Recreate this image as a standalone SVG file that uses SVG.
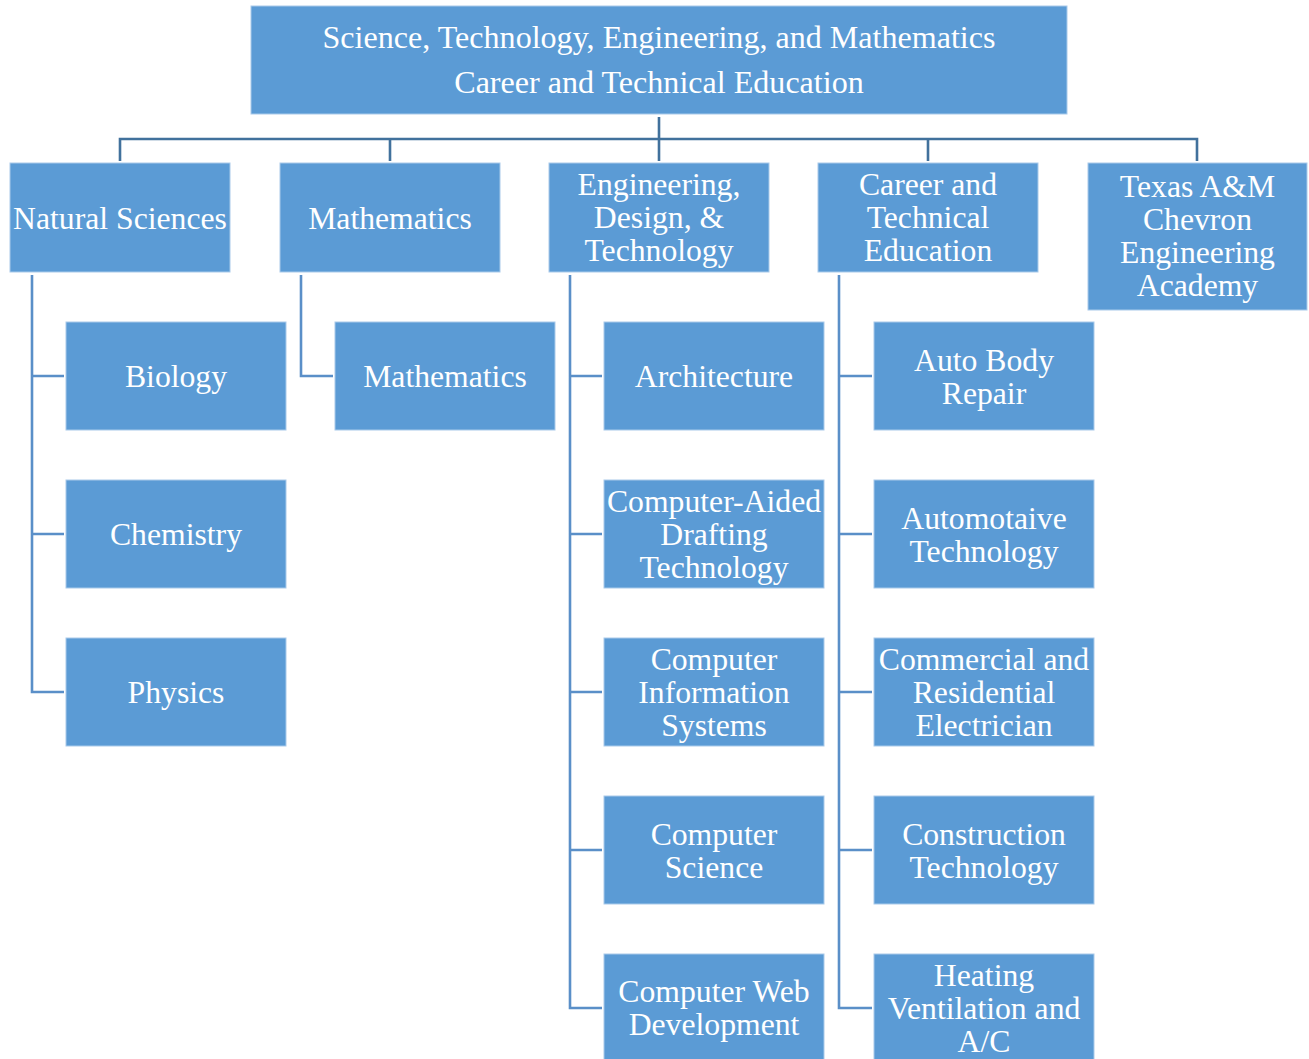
<svg xmlns="http://www.w3.org/2000/svg" width="1309" height="1059" viewBox="0 0 1309 1059">
<style>
.box{fill:#5B9BD5;stroke:#A9CAEA;stroke-width:1}
text{font-family:"Liberation Serif","Times New Roman",serif;font-size:31.7px;fill:#FFFFFF;text-anchor:middle}
.top{font-size:32.1px}
.bus{fill:none;stroke:#41719C;stroke-width:2.6}
.sub{fill:none;stroke:#5A8FC8;stroke-width:2.6}
</style>
<rect width="1309" height="1059" fill="#FFFFFF"/>
<g id="connectors">
<path class="bus" d="M659,117 V139 M120,161 V139 H1197 V161 M390,139 V161 M659,139 V161 M928,139 V161"/>
<path class="sub" d="M32,275 V692 H64 M32,376 H64 M32,534 H64"/>
<path class="sub" d="M301,275 V376 H333"/>
<path class="sub" d="M570,275 V1008 H602 M570,376 H602 M570,534 H602 M570,692 H602 M570,850 H602"/>
<path class="sub" d="M839,275 V1008 H872 M839,376 H872 M839,534 H872 M839,692 H872 M839,850 H872"/>
</g>
<g id="root"><rect class="box" x="251" y="6" width="816" height="108"/><text class="top" x="659" y="48">Science, Technology, Engineering, and Mathematics</text><text class="top" x="659" y="93">Career and Technical Education</text></g>
<g id="natural-sciences"><rect class="box" x="10" y="163" width="220" height="109"/><text x="120" y="228.5">Natural Sciences</text></g>
<g id="mathematics-group"><rect class="box" x="280" y="163" width="220" height="109"/><text x="390" y="228.5">Mathematics</text></g>
<g id="engineering"><rect class="box" x="549" y="163" width="220" height="109"/><text x="659" y="194.5">Engineering,</text><text x="659" y="227.5">Design, &amp;</text><text x="659" y="260.5">Technology</text></g>
<g id="cte"><rect class="box" x="818" y="163" width="220" height="109"/><text x="928" y="194.5">Career and</text><text x="928" y="227.5">Technical</text><text x="928" y="260.5">Education</text></g>
<g id="texas-am"><rect class="box" x="1088" y="163" width="219" height="147"/><text x="1197.5" y="196.5">Texas A&amp;M</text><text x="1197.5" y="229.5">Chevron</text><text x="1197.5" y="262.5">Engineering</text><text x="1197.5" y="295.5">Academy</text></g>
<g id="biology"><rect class="box" x="66" y="322" width="220" height="108"/><text x="176" y="387">Biology</text></g>
<g id="chemistry"><rect class="box" x="66" y="480" width="220" height="108"/><text x="176" y="545">Chemistry</text></g>
<g id="physics"><rect class="box" x="66" y="638" width="220" height="108"/><text x="176" y="703">Physics</text></g>
<g id="mathematics"><rect class="box" x="335" y="322" width="220" height="108"/><text x="445" y="387">Mathematics</text></g>
<g id="architecture"><rect class="box" x="604" y="322" width="220" height="108"/><text x="714" y="387">Architecture</text></g>
<g id="cad"><rect class="box" x="604" y="480" width="220" height="108"/><text x="714" y="512">Computer-Aided</text><text x="714" y="545">Drafting</text><text x="714" y="578">Technology</text></g>
<g id="cis"><rect class="box" x="604" y="638" width="220" height="108"/><text x="714" y="670">Computer</text><text x="714" y="703">Information</text><text x="714" y="736">Systems</text></g>
<g id="cs"><rect class="box" x="604" y="796" width="220" height="108"/><text x="714" y="845">Computer</text><text x="714" y="878">Science</text></g>
<g id="cwd"><rect class="box" x="604" y="954" width="220" height="108"/><text x="714" y="1002">Computer Web</text><text x="714" y="1035">Development</text></g>
<g id="auto-body"><rect class="box" x="874" y="322" width="220" height="108"/><text x="984" y="371">Auto Body</text><text x="984" y="404">Repair</text></g>
<g id="automotive"><rect class="box" x="874" y="480" width="220" height="108"/><text x="984" y="529">Automotaive</text><text x="984" y="562">Technology</text></g>
<g id="electrician"><rect class="box" x="874" y="638" width="220" height="108"/><text x="984" y="670">Commercial and</text><text x="984" y="703">Residential</text><text x="984" y="736">Electrician</text></g>
<g id="construction"><rect class="box" x="874" y="796" width="220" height="108"/><text x="984" y="845">Construction</text><text x="984" y="878">Technology</text></g>
<g id="hvac"><rect class="box" x="874" y="954" width="220" height="108"/><text x="984" y="986">Heating</text><text x="984" y="1019">Ventilation and</text><text x="984" y="1052">A/C</text></g>
</svg>
